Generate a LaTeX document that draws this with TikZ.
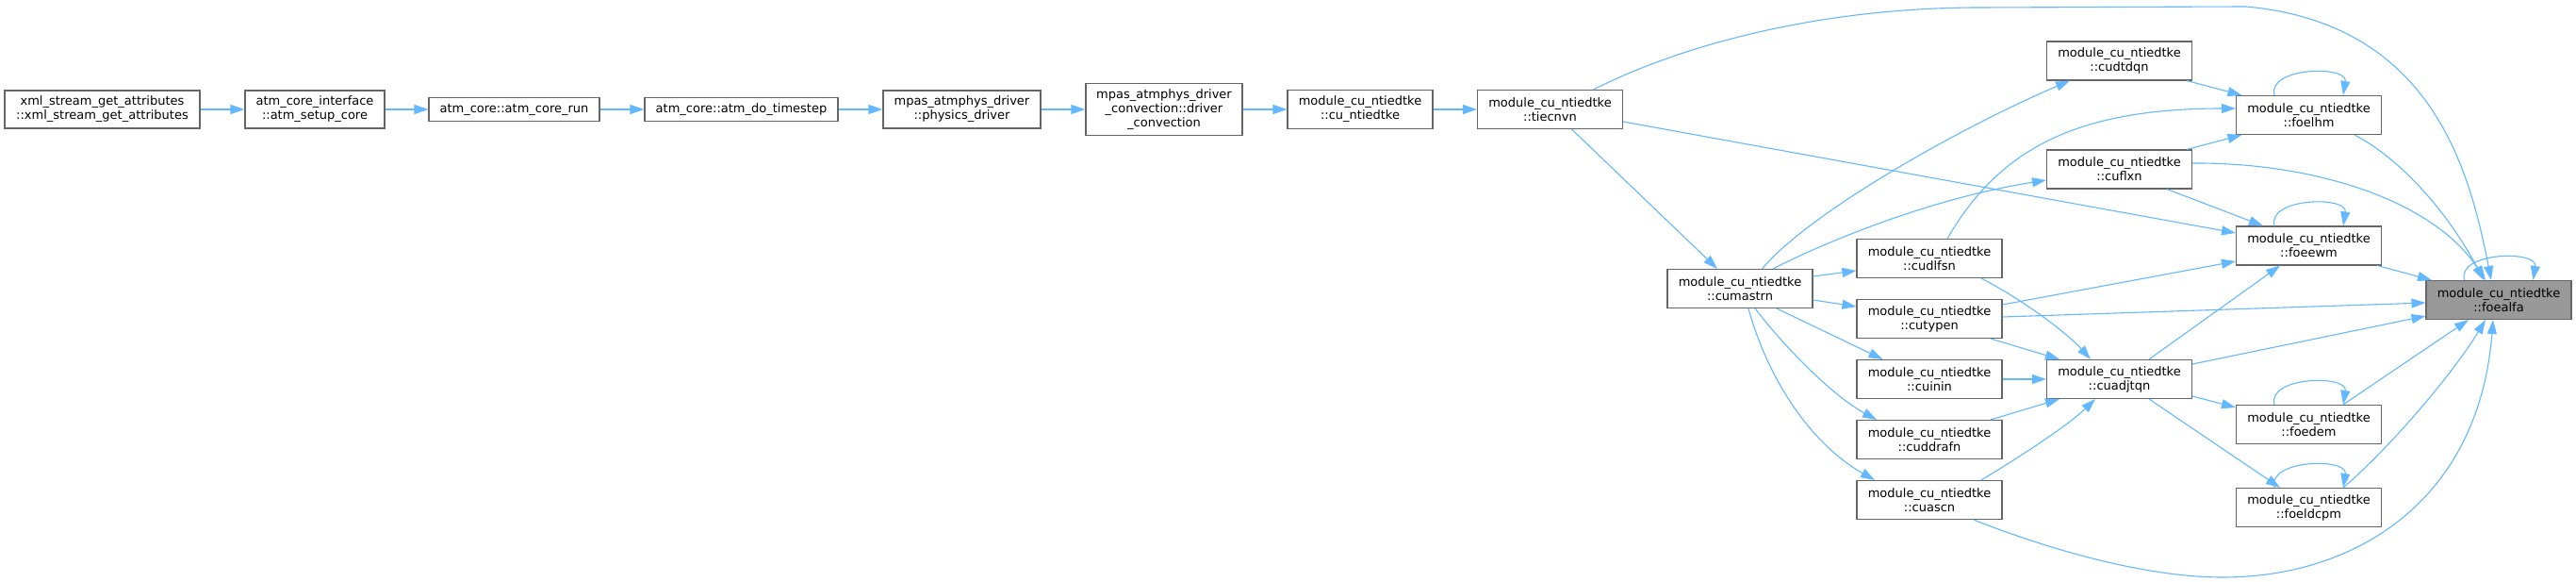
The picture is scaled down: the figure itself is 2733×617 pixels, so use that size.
\documentclass[tikz,border=0pt]{standalone}
\usepackage{fontspec}
\setmainfont{DejaVu Sans}
\usetikzlibrary{arrows.meta}
\definecolor{edgec}{HTML}{63B8FF}
\definecolor{bordc}{HTML}{666666}
\definecolor{hlfill}{HTML}{999999}
\begin{document}
\begin{tikzpicture}[x=1pt,y=-1pt,
  box/.style={draw=bordc,line width=1.1pt,fill=white,align=center,inner sep=0pt,
    minimum width=154pt,minimum height=41pt,font=\fontsize{13}{15}\selectfont},
  hlbox/.style={box,fill=hlfill},
  edge/.style={draw=edgec,line width=1.1pt,-{Triangle[length=15pt,width=10pt]}}]
\useasboundingbox[fill=white] (0,0) rectangle (2733,617);
% nodes
\node[box,minimum width=207pt,minimum height=40pt] (xml) at (108.5,116) {xml\_stream\_get\_attributes\\::xml\_stream\_get\_attributes};
\node[box,minimum width=148pt,minimum height=40pt] (setup) at (334,116) {atm\_core\_interface\\::atm\_setup\_core};
\node[box,minimum width=181pt,minimum height=25pt] (run) at (545.5,116) {atm\_core::atm\_core\_run};
\node[box,minimum width=205pt,minimum height=25pt] (tstep) at (786.5,116) {atm\_core::atm\_do\_timestep};
\node[box,minimum width=167pt,minimum height=40pt] (phys) at (1020.5,116) {mpas\_atmphys\_driver\\::physics\_driver};
\node[box,minimum width=166pt,minimum height=55pt] (conv) at (1235,116) {mpas\_atmphys\_driver\\\_convection::driver\\\_convection};
\node[box] (cunt) at (1443,116) {module\_cu\_ntiedtke\\::cu\_ntiedtke};
\node[box] (tiecnvn) at (1644.5,116) {module\_cu\_ntiedtke\\::tiecnvn};
\node[box] (cumastrn) at (1846,306) {module\_cu\_ntiedtke\\::cumastrn};
\node[box] (cudlfsn) at (2047,274) {module\_cu\_ntiedtke\\::cudlfsn};
\node[box] (cutypen) at (2047,338) {module\_cu\_ntiedtke\\::cutypen};
\node[box] (cuinin) at (2047,402) {module\_cu\_ntiedtke\\::cuinin};
\node[box] (cuddrafn) at (2047,466) {module\_cu\_ntiedtke\\::cuddrafn};
\node[box] (cuascn) at (2047,530) {module\_cu\_ntiedtke\\::cuascn};
\node[box] (cudtdqn) at (2248.5,64.5) {module\_cu\_ntiedtke\\::cudtdqn};
\node[box] (cuflxn) at (2248.5,179.5) {module\_cu\_ntiedtke\\::cuflxn};
\node[box] (cuadjtqn) at (2248.5,402) {module\_cu\_ntiedtke\\::cuadjtqn};
\node[box] (foelhm) at (2449.5,122) {module\_cu\_ntiedtke\\::foelhm};
\node[box] (foeewm) at (2449.5,260.5) {module\_cu\_ntiedtke\\::foeewm};
\node[box] (foedem) at (2449.5,450) {module\_cu\_ntiedtke\\::foedem};
\node[box] (foeldcpm) at (2449.5,538) {module\_cu\_ntiedtke\\::foeldcpm};
\node[hlbox] (foealfa) at (2651,318) {module\_cu\_ntiedtke\\::foealfa};
% chain
\draw[edge] (xml.east) -- (setup.west);
\draw[edge] (setup.east) -- (run.west);
\draw[edge] (run.east) -- (tstep.west);
\draw[edge] (tstep.east) -- (phys.west);
\draw[edge] (phys.east) -- (conv.west);
\draw[edge] (conv.east) -- (cunt.west);
\draw[edge] (cunt.east) -- (tiecnvn.west);
% tiecnvn
\draw[edge] ([xshift=23pt]tiecnvn.south) -- ([xshift=-24pt]cumastrn.north);
\draw[edge] ([yshift=-13pt]tiecnvn.east) -- ([yshift=13.5pt]foeewm.west);
\draw[edge] ([xshift=46pt]tiecnvn.north) .. controls (1800,40) and (1950,8) .. (2100,8) -- (2383,7) .. controls (2580,25) and (2620,180) .. ([xshift=-8pt]foealfa.north);
% cumastrn
\draw[edge] ([xshift=23.5pt]cumastrn.north) .. controls (1920,225) and (2080,135) .. ([xshift=-52.5pt]cudtdqn.south);
\draw[edge] ([xshift=35pt]cumastrn.north) .. controls (1940,255) and (2050,210) .. ([yshift=-11.5pt]cuflxn.west);
\draw[edge] ([yshift=13pt]cumastrn.east) -- ([yshift=-13pt]cudlfsn.west);
\draw[edge] ([yshift=-12pt]cumastrn.east) -- ([yshift=13pt]cutypen.west);
\draw[edge] ([xshift=39pt]cumastrn.south) -- ([xshift=-49.5pt]cuinin.north);
\draw[edge] ([xshift=16pt]cumastrn.south) .. controls (1895,370) and (1945,420) .. ([xshift=-56pt]cuddrafn.north);
\draw[edge] ([xshift=9pt]cumastrn.south) .. controls (1875,400) and (1920,470) .. ([xshift=-58pt]cuascn.north);
% middle column
\draw[edge] ([xshift=19pt]cudlfsn.north) .. controls (2120,160) and (2200,115) .. ([yshift=7pt]foelhm.west);
\draw[edge] ([xshift=55pt]cudlfsn.south) .. controls (2150,320) and (2195,355) .. ([xshift=-30.5pt]cuadjtqn.north);
\draw[edge] ([yshift=15pt]cutypen.east) -- ([yshift=-16.5pt]foeewm.west);
\draw[edge] ([yshift=2pt]cutypen.east) -- ([yshift=-3pt]foealfa.west);
\draw[edge] ([xshift=65pt]cutypen.south) -- ([xshift=-63.5pt]cuadjtqn.north);
\draw[edge] (cuinin.east) -- (cuadjtqn.west);
\draw[edge] ([xshift=65pt]cuddrafn.north) -- ([xshift=-63.5pt]cuadjtqn.south);
\draw[edge] ([xshift=55pt]cuascn.north) .. controls (2150,480) and (2195,450) .. ([xshift=-25.5pt]cuadjtqn.south);
\draw[edge] ([xshift=47pt]cuascn.south) .. controls (2180,585) and (2280,612) .. (2358,612) .. controls (2500,612) and (2630,530) .. ([xshift=-6pt]foealfa.south);
% right columns
\draw[edge] ([xshift=71.5pt]cudtdqn.south) -- ([xshift=-71pt]foelhm.north);
\draw[edge] ([xshift=71.5pt]cuflxn.north) -- ([xshift=-71pt]foelhm.south);
\draw[edge] ([yshift=6.5pt]cuflxn.east) .. controls (2450,172) and (2580,210) .. ([xshift=-14pt]foealfa.north);
\draw[edge] ([xshift=50.5pt]cuflxn.south) -- ([xshift=-48.5pt]foeewm.north);
\draw[edge] ([xshift=48.5pt]foelhm.south) .. controls (2550,170) and (2600,230) .. ([xshift=-16pt]foealfa.north);
\draw[edge] ([xshift=72.5pt]foeewm.south) -- ([xshift=-71pt]foealfa.north);
\draw[edge] ([xshift=31.5pt]cuadjtqn.north) -- ([xshift=-30.5pt]foeewm.south);
\draw[edge] ([yshift=16pt]cuadjtqn.east) -- ([yshift=-17pt]foealfa.west);
\draw[edge] ([yshift=-18pt]cuadjtqn.east) -- ([yshift=18pt]foedem.west);
\draw[edge] ([xshift=31.5pt]cuadjtqn.south) -- ([xshift=-30.5pt]foeldcpm.north);
\draw[edge] ([xshift=36.5pt]foedem.north) -- ([xshift=-32pt]foealfa.south);
\draw[edge] ([xshift=36.5pt]foeldcpm.north) .. controls (2530,480) and (2600,400) .. ([xshift=-14pt]foealfa.south);
% self loops
\foreach \n in {foelhm,foeewm,foedem,foeldcpm,foealfa}{
  \draw[edge] ([xshift=-36.5pt]\n.north) .. controls +(-8,-30) and +(5,-32) .. ([xshift=36.5pt]\n.north);
}
\end{tikzpicture}
\end{document}
